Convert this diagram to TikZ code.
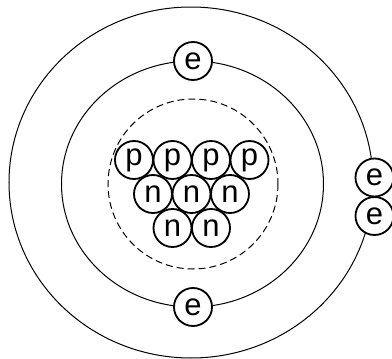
\documentclass[tikz,border=0pt]{standalone}
\usepackage{fontspec}
\setmainfont{Liberation Sans}
\begin{document}
\begin{tikzpicture}[x=1pt,y=-1pt,
  orbit/.style={line width=1pt},
  shellline/.style={line width=1pt, dash pattern=on 7pt off 4pt},
  particle/.style={circle, draw, line width=1.8pt, minimum size=38pt, inner sep=0pt,
    font=\fontsize{31}{31}\selectfont},
  electron/.style={particle, fill=white}]
\useasboundingbox (0,0) rectangle (392,359);
% orbits
\draw[orbit] (191,182.5) ellipse [x radius=182, y radius=175.5];
\draw[orbit] (192.5,184) ellipse [x radius=131, y radius=123];
\draw[shellline] (193,184) circle [radius=85];
% nucleons
\node[particle] (p1) at (134,160) {p};
\node[particle] (p2) at (172.5,160) {p};
\node[particle] (p3) at (211,160) {p};
\node[particle] (p4) at (249.5,160) {p};
\node[particle] (n1) at (153,194) {n};
\node[particle] (n2) at (191.5,194) {n};
\node[particle] (n3) at (230,194) {n};
\node[particle] (n4) at (172.5,228) {n};
\node[particle] (n5) at (211,228) {n};
% electrons
\node[electron] (e1) at (193,61) {e};
\node[electron] (e2) at (193,307) {e};
\node[electron] (e3) at (374.5,177.5) {e};
\node[electron] (e4) at (374.5,216) {e};
\end{tikzpicture}
\end{document}
